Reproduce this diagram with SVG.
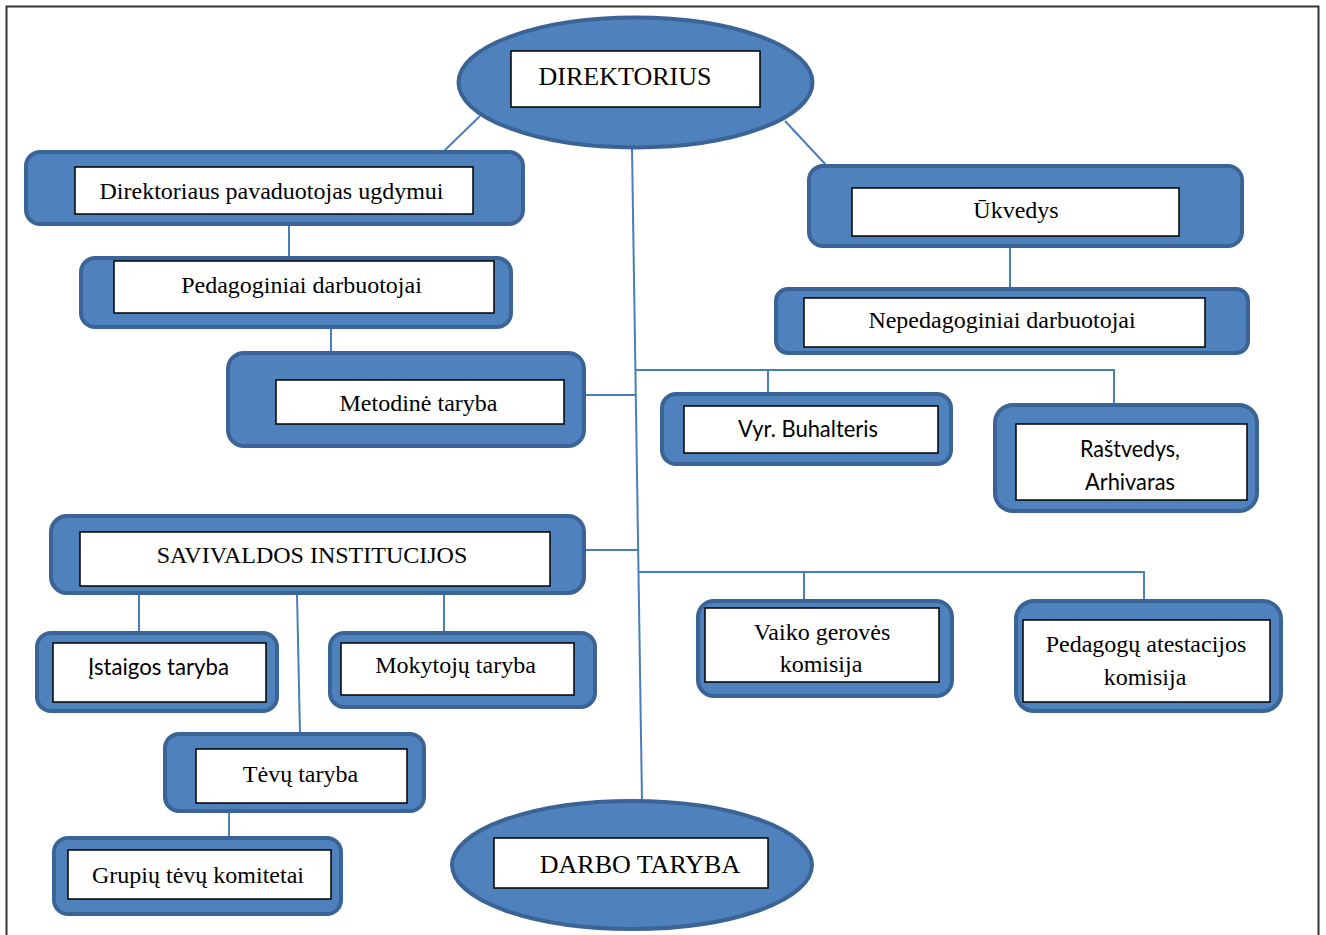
<svg xmlns="http://www.w3.org/2000/svg" width="1326" height="935" viewBox="0 0 1326 935">
<style>
.box{fill:#4f81bd;stroke:#3a6396;stroke-width:4}
.ell{fill:#4f81bd;stroke:#3a6396;stroke-width:4}
.in{fill:#fff;stroke:#000;stroke-width:1.5}
.c{fill:none;stroke:#4a7ebb;stroke-width:2}
.s{font-family:"Liberation Serif","Times New Roman",serif;font-size:24px;fill:#000;text-anchor:middle}
.ss{font-family:Lato,"Liberation Sans",sans-serif;font-size:23px;fill:#000;text-anchor:middle}
</style>
<rect width="1326" height="935" fill="#fff"/>
<path d="M6.5,940 V6.5 H1318.5 V940" fill="none" stroke="#333" stroke-width="2"/>
<g id="connectors">
<line class="c" x1="480" y1="116" x2="444" y2="151"/>
<line class="c" x1="785" y1="121" x2="827" y2="166"/>
<line class="c" x1="632" y1="148" x2="642" y2="801"/>
<line class="c" x1="289" y1="224" x2="289" y2="257"/>
<line class="c" x1="331" y1="327" x2="331" y2="352"/>
<line class="c" x1="585" y1="395" x2="635.5" y2="395"/>
<line class="c" x1="1010" y1="247" x2="1010" y2="288"/>
<polyline class="c" points="635,370 1114,370 1114,404"/>
<line class="c" x1="768" y1="370" x2="768" y2="393"/>
<line class="c" x1="585" y1="550" x2="638" y2="550"/>
<polyline class="c" points="638.5,572 1144,572 1144,601"/>
<line class="c" x1="804" y1="572" x2="804" y2="601"/>
<line class="c" x1="139" y1="594" x2="139" y2="633"/>
<line class="c" x1="444" y1="594" x2="444" y2="633"/>
<line class="c" x1="297" y1="594" x2="300" y2="734"/>
<line class="c" x1="229" y1="812" x2="229" y2="837"/>
</g>
<g id="direktorius">
<ellipse class="ell" cx="635.5" cy="82.5" rx="177" ry="65"/>
<rect class="in" x="511" y="51" width="249" height="56"/>
<text class="s" x="625" y="85" style="font-size:26px">DIREKTORIUS</text>
</g>
<g id="pavaduotojas">
<rect class="box" x="26" y="152" width="497" height="72" rx="14"/>
<rect class="in" x="75" y="167" width="398" height="47"/>
<text class="s" x="271.5" y="199">Direktoriaus pavaduotojas ugdymui</text>
</g>
<g id="pedagoginiai">
<rect class="box" x="81" y="258" width="430" height="69" rx="14"/>
<rect class="in" x="114" y="261" width="380" height="52"/>
<text class="s" x="301.5" y="293">Pedagoginiai darbuotojai</text>
</g>
<g id="metodine">
<rect class="box" x="228" y="353" width="356" height="93" rx="16"/>
<rect class="in" x="276" y="380" width="288" height="44"/>
<text class="s" x="418.5" y="411">Metodinė taryba</text>
</g>
<g id="ukvedys">
<rect class="box" x="809" y="166" width="433" height="80" rx="14"/>
<rect class="in" x="852" y="188" width="327" height="48"/>
<text class="s" x="1016" y="218">Ūkvedys</text>
</g>
<g id="nepedagoginiai">
<rect class="box" x="776" y="289" width="472" height="64" rx="12"/>
<rect class="in" x="804" y="298" width="401" height="49"/>
<text class="s" x="1002" y="328">Nepedagoginiai darbuotojai</text>
</g>
<g id="buhalteris">
<rect class="box" x="662" y="394" width="289" height="70" rx="14"/>
<rect class="in" x="684" y="406" width="254" height="47"/>
<text class="ss" x="808" y="437" textLength="140" lengthAdjust="spacingAndGlyphs">Vyr. Buhalteris</text>
</g>
<g id="rastvedys">
<rect class="box" x="995" y="405" width="262" height="106" rx="18"/>
<rect class="in" x="1016" y="424" width="231" height="76"/>
<text class="ss" x="1130" y="457" textLength="100" lengthAdjust="spacingAndGlyphs">Raštvedys,</text>
<text class="ss" x="1130" y="490" textLength="90" lengthAdjust="spacingAndGlyphs">Arhivaras</text>
</g>
<g id="savivaldos">
<rect class="box" x="51" y="516" width="533" height="77" rx="16"/>
<rect class="in" x="80" y="532" width="470" height="54"/>
<text class="s" x="312" y="563">SAVIVALDOS INSTITUCIJOS</text>
</g>
<g id="vaiko">
<rect class="box" x="698" y="601" width="254" height="95" rx="16"/>
<rect class="in" x="705" y="608" width="234" height="74"/>
<text class="s" x="822" y="640">Vaiko gerovės</text>
<text class="s" x="821" y="672">komisija</text>
</g>
<g id="atestacijos">
<rect class="box" x="1016" y="601" width="265" height="110" rx="18"/>
<rect class="in" x="1023" y="620" width="247" height="82"/>
<text class="s" x="1146" y="652">Pedagogų atestacijos</text>
<text class="s" x="1145" y="685">komisija</text>
</g>
<g id="istaigos">
<rect class="box" x="37" y="633" width="240" height="78" rx="14"/>
<rect class="in" x="53" y="643" width="213" height="59"/>
<text class="ss" x="158.5" y="675" textLength="141" lengthAdjust="spacingAndGlyphs">Įstaigos taryba</text>
</g>
<g id="mokytoju">
<rect class="box" x="330" y="633" width="265" height="74" rx="14"/>
<rect class="in" x="341" y="643" width="233" height="52"/>
<text class="s" x="455.5" y="673">Mokytojų taryba</text>
</g>
<g id="tevu">
<rect class="box" x="165" y="734" width="259" height="77" rx="14"/>
<rect class="in" x="196" y="749" width="211" height="54"/>
<text class="s" x="300.5" y="782">Tėvų taryba</text>
</g>
<g id="grupiu">
<rect class="box" x="54" y="838" width="287" height="76" rx="14"/>
<rect class="in" x="68" y="850" width="263" height="49"/>
<text class="s" x="198" y="883">Grupių tėvų komitetai</text>
</g>
<g id="darbo">
<ellipse class="ell" cx="632" cy="865" rx="180" ry="64"/>
<rect class="in" x="494" y="838" width="274" height="50"/>
<text class="s" x="640" y="873" style="font-size:26px">DARBO TARYBA</text>
</g>
</svg>
